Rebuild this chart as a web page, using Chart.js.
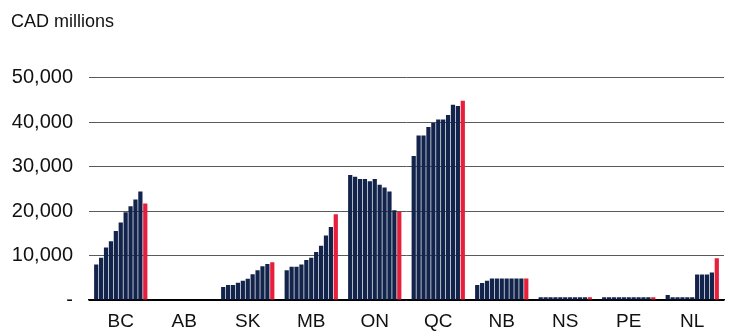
<!DOCTYPE html>
<html>
<head>
<meta charset="utf-8">
<script src="https://cdn.jsdelivr.net/npm/chart.js@4.4.0/dist/chart.umd.min.js"></script>
<style>
  html, body { margin: 0; padding: 0; background: #fff; }
  #wrap { width: 730px; height: 332px; }
</style>
</head>
<body>
<div id="wrap"><canvas id="chart"></canvas></div>
<script>
// Provinces on the x axis
const provinces = ['BC', 'AB', 'SK', 'MB', 'ON', 'QC', 'NB', 'NS', 'PE', 'NL'];

// Each province: 10 navy bars then the red bar (CAD millions)
const bc = [8000, 9500, 11800, 13200, 15500, 17400, 19700, 21100, 22600, 24400, 21700];
const ab = [0, 0, 0, 0, 0, 0, 0, 0, 0, 0, 0];
const sk = [2900, 3400, 3400, 3900, 4300, 4800, 5800, 6700, 7600, 8100, 8500];
const mb = [6700, 7500, 7500, 8000, 9000, 9500, 10800, 12200, 14500, 16400, 19300];
const on = [28100, 27700, 27200, 27200, 26700, 27200, 25900, 25300, 24400, 20200, 19800];
const qc = [32400, 37000, 37000, 38900, 39800, 40600, 40600, 41600, 43900, 43600, 44800];
const nb = [3400, 3800, 4300, 4850, 4850, 4850, 4850, 4850, 4850, 4850, 4850];
const ns = [600, 600, 600, 600, 600, 600, 600, 600, 600, 600, 600];
const pe = [600, 600, 600, 600, 600, 600, 600, 600, 600, 600, 600];
const nl = [1100, 600, 600, 600, 600, 600, 5750, 5750, 5750, 6200, 9400];

const yTicks = [0, 10000, 20000, 30000, 40000, 50000];

const navy = '#13244c';
const red = '#e71f3c';
const fontFamily = '"Liberation Sans", Arial, Helvetica, sans-serif';

const rows = [bc, ab, sk, mb, on, qc, nb, ns, pe, nl];
const datasets = [];
for (let i = 0; i < 11; i++) {
    datasets.push({
        label: 'Series ' + (i + 1),
        data: rows.map(r => r[i]),
        backgroundColor: i === 10 ? red : navy,
        borderWidth: 0,
        barPercentage: 0.86,
        categoryPercentage: 0.85
    });
}

const ctx = document.getElementById('chart').getContext('2d');
new Chart(ctx, {
    type: 'bar',
    data: { labels: provinces, datasets: datasets },
    options: {
        responsive: true,
        maintainAspectRatio: false,
        animation: false,
        layout: { padding: { left: 11, right: 6, top: 0, bottom: 1 } },
        plugins: {
            legend: { display: false },
            tooltip: { enabled: false },
            title: {
                display: true,
                text: 'CAD millions',
                align: 'start',
                color: '#111',
                font: { family: fontFamily, size: 18, weight: 'normal', lineHeight: 1.2 },
                padding: { top: 11, bottom: 45 }
            }
        },
        scales: {
            x: {
                afterFit: (scale) => { scale.height = 31; },
                grid: { display: false, drawTicks: false, tickLength: 0 },
                border: { display: true, color: '#000', width: 1.5 },
                ticks: {
                    color: '#111',
                    maxRotation: 0,
                    font: { family: fontFamily, size: 19, lineHeight: 1 },
                    padding: 12
                }
            },
            y: {
                min: 0,
                max: 50000,
                afterFit: (scale) => { scale.width = 78; },
                afterBuildTicks: (scale) => { scale.ticks = yTicks.map(v => ({ value: v })); },
                border: { display: false },
                grid: {
                    color: (c) => c.tick && c.tick.value === 0 ? '#000' : '#5a5a5a',
                    lineWidth: 1,
                    drawTicks: false
                },
                ticks: {
                    color: '#111',
                    padding: 16,
                    font: { family: fontFamily, size: 20 },
                    callback: (v) => v === 0 ? '-' : v.toLocaleString('en-US')
                }
            }
        }
    }
});
</script>
</body>
</html>
